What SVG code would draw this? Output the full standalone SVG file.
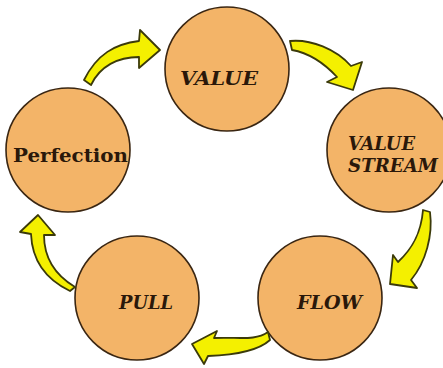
<svg xmlns="http://www.w3.org/2000/svg" width="443" height="368" viewBox="0 0 443 368">
<defs>
<style>
.node circle{fill:#f3b468;stroke:#3a2612;stroke-width:1.6}
.lbl{font-family:"DejaVu Serif","Liberation Serif",serif;font-style:italic;font-weight:bold;fill:#2a180a;font-size:18px}
.arrows path{fill:#f4f000;stroke:#3b3a0a;stroke-width:1.8;stroke-linejoin:round}
</style>
</defs>
<rect width="443" height="368" fill="#ffffff"/>
<g id="value" class="node"><circle cx="227" cy="69" r="62"/><text class="lbl" x="180" y="85" textLength="78" lengthAdjust="spacingAndGlyphs">VALUE</text></g>
<g id="value-stream" class="node"><circle cx="389" cy="150" r="62"/><text class="lbl" x="348" y="150" textLength="67" lengthAdjust="spacingAndGlyphs">VALUE</text><text class="lbl" x="348" y="172" textLength="90" lengthAdjust="spacingAndGlyphs">STREAM</text></g>
<g id="flow" class="node"><circle cx="320" cy="298" r="62"/><text class="lbl" x="297" y="309" textLength="65" lengthAdjust="spacingAndGlyphs">FLOW</text></g>
<g id="pull" class="node"><circle cx="137" cy="298" r="62"/><text class="lbl" x="119" y="309" textLength="54" lengthAdjust="spacingAndGlyphs">PULL</text></g>
<g id="perfection" class="node"><circle cx="68" cy="150" r="62"/><text class="lbl" style="font-style:normal" x="13" y="162" font-size="19" textLength="115" lengthAdjust="spacingAndGlyphs">Perfection</text></g>
<g id="connectors" class="arrows">
<path d="M 84 80 C 97 54, 115 44, 139 41 L 140 30 L 160 50 L 139 68 L 139 57 C 118 57, 100 66, 91 85 Z"/>
<path d="M 290 41 C 311 39, 336 49, 351 66 L 362 62 L 353 90 L 327 82 L 337 77 C 324 63, 309 53, 292 50 Z"/>
<path d="M 423 210 C 421 235, 411 250, 398 262 L 393 255 L 390 284 L 417 288 L 411 280 C 426 262, 433 235, 430 212 Z"/>
<path d="M 268 332 C 255 341, 240 337, 214 338 L 217 331 L 192 344 L 204 364 L 208 356 C 235 355, 258 351, 270 340 Z"/>
<path d="M 75 287 C 55 275, 44 258, 44 235 L 55 235 L 38 215 L 20 232 L 31 234 C 32 259, 45 279, 70 291 Z"/>
</g>
</svg>
